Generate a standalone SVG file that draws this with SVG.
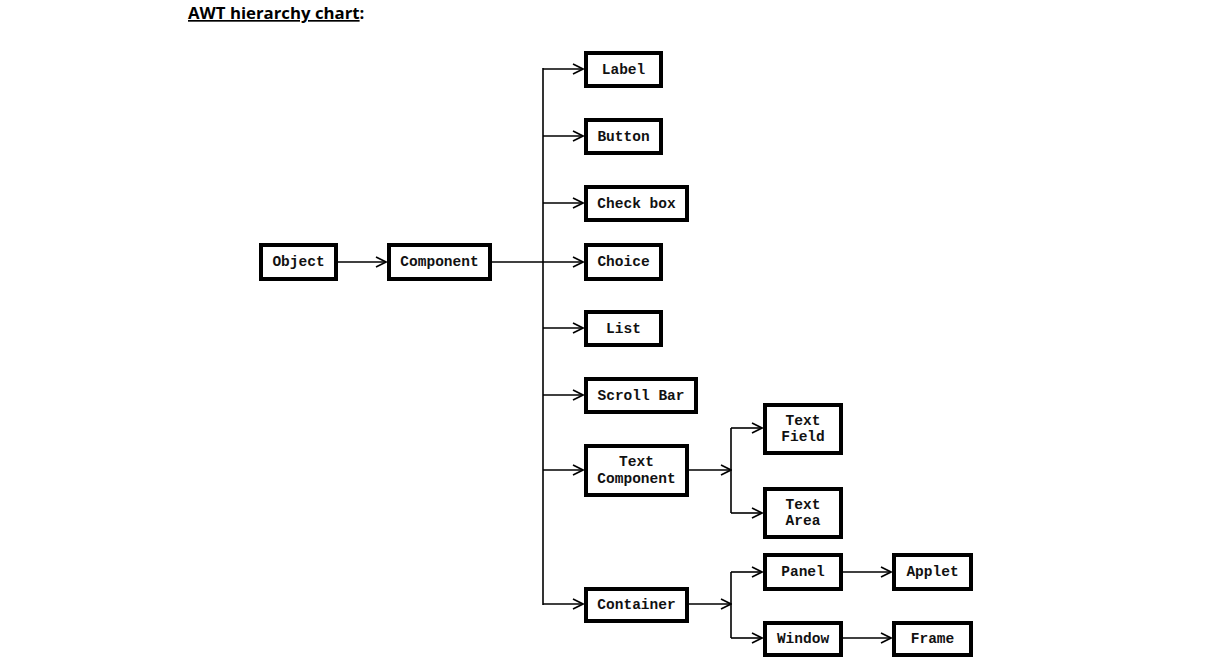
<svg xmlns="http://www.w3.org/2000/svg" width="1226" height="666" viewBox="0 0 1226 666">
<defs>
<style>
.box{fill:#fff;stroke:#000;stroke-width:4}
.t{font-family:"Liberation Mono","Courier New",monospace;font-weight:bold;font-size:14.5px;fill:#111;text-anchor:middle;dominant-baseline:central}
.c{fill:none;stroke:#000;stroke-width:1.6}
.title{font-family:"Open Sans","Liberation Sans",sans-serif;font-weight:bold;font-size:16.8px;fill:#000}
</style>
<marker id="arr" viewBox="0 0 12 12" refX="11" refY="6" markerWidth="12" markerHeight="12" markerUnits="userSpaceOnUse" orient="auto">
<path d="M1,1 L11,6 L1,11" fill="none" stroke="#000" stroke-width="1.6"/>
</marker>
</defs>
<rect width="1226" height="666" fill="#fff"/>
<text class="title" x="188" y="19"><tspan text-decoration="underline">AWT hierarchy chart</tspan>:</text>

<g id="connectors">
<line class="c" x1="338" y1="262" x2="386" y2="262" marker-end="url(#arr)"/>
<line class="c" x1="492" y1="262" x2="583" y2="262" marker-end="url(#arr)"/>
<line class="c" x1="543" y1="68" x2="543" y2="605"/>
<line class="c" x1="543" y1="69" x2="583" y2="69" marker-end="url(#arr)"/>
<line class="c" x1="543" y1="136" x2="583" y2="136" marker-end="url(#arr)"/>
<line class="c" x1="543" y1="203" x2="583" y2="203" marker-end="url(#arr)"/>
<line class="c" x1="543" y1="328" x2="583" y2="328" marker-end="url(#arr)"/>
<line class="c" x1="543" y1="395" x2="583" y2="395" marker-end="url(#arr)"/>
<line class="c" x1="543" y1="470" x2="583" y2="470" marker-end="url(#arr)"/>
<line class="c" x1="543" y1="604" x2="583" y2="604" marker-end="url(#arr)"/>
<line class="c" x1="689" y1="470" x2="731" y2="470" marker-end="url(#arr)"/>
<line class="c" x1="731" y1="428" x2="731" y2="513"/>
<line class="c" x1="731" y1="428" x2="762" y2="428" marker-end="url(#arr)"/>
<line class="c" x1="731" y1="513" x2="762" y2="513" marker-end="url(#arr)"/>
<line class="c" x1="689" y1="604" x2="731" y2="604" marker-end="url(#arr)"/>
<line class="c" x1="731" y1="572" x2="731" y2="638"/>
<line class="c" x1="731" y1="572" x2="762" y2="572" marker-end="url(#arr)"/>
<line class="c" x1="731" y1="638" x2="762" y2="638" marker-end="url(#arr)"/>
<line class="c" x1="843" y1="572" x2="891" y2="572" marker-end="url(#arr)"/>
<line class="c" x1="843" y1="638" x2="891" y2="638" marker-end="url(#arr)"/>
</g>

<g id="object"><rect class="box" x="261" y="245" width="75" height="34"/><text class="t" x="298.5" y="262">Object</text></g>
<g id="component"><rect class="box" x="389" y="245" width="101" height="34"/><text class="t" x="439.5" y="262">Component</text></g>
<g id="label"><rect class="box" x="586" y="53" width="75" height="33"/><text class="t" x="623.5" y="69.5">Label</text></g>
<g id="button"><rect class="box" x="586" y="120" width="75" height="33"/><text class="t" x="623.5" y="136.5">Button</text></g>
<g id="checkbox"><rect class="box" x="586" y="187" width="101" height="33"/><text class="t" x="636.5" y="203.5">Check box</text></g>
<g id="choice"><rect class="box" x="586" y="245" width="75" height="34"/><text class="t" x="623.5" y="262">Choice</text></g>
<g id="list"><rect class="box" x="586" y="312" width="75" height="33"/><text class="t" x="623.5" y="328.5">List</text></g>
<g id="scrollbar"><rect class="box" x="586" y="379" width="110" height="33"/><text class="t" x="641" y="395.5">Scroll Bar</text></g>
<g id="textcomponent"><rect class="box" x="586" y="446" width="101" height="49"/><text class="t" x="636.5" y="462">Text</text><text class="t" x="636.5" y="479">Component</text></g>
<g id="container"><rect class="box" x="586" y="589" width="101" height="32"/><text class="t" x="636.5" y="605">Container</text></g>
<g id="textfield"><rect class="box" x="765" y="405" width="76" height="48"/><text class="t" x="803" y="421">Text</text><text class="t" x="803" y="437">Field</text></g>
<g id="textarea"><rect class="box" x="765" y="489" width="76" height="48"/><text class="t" x="803" y="505">Text</text><text class="t" x="803" y="521">Area</text></g>
<g id="panel"><rect class="box" x="765" y="555" width="76" height="34"/><text class="t" x="803" y="572">Panel</text></g>
<g id="window"><rect class="box" x="765" y="623" width="76" height="32"/><text class="t" x="803" y="639">Window</text></g>
<g id="applet"><rect class="box" x="894" y="555" width="77" height="34"/><text class="t" x="932.5" y="572">Applet</text></g>
<g id="frame"><rect class="box" x="894" y="623" width="77" height="32"/><text class="t" x="932.5" y="639">Frame</text></g>
</svg>
